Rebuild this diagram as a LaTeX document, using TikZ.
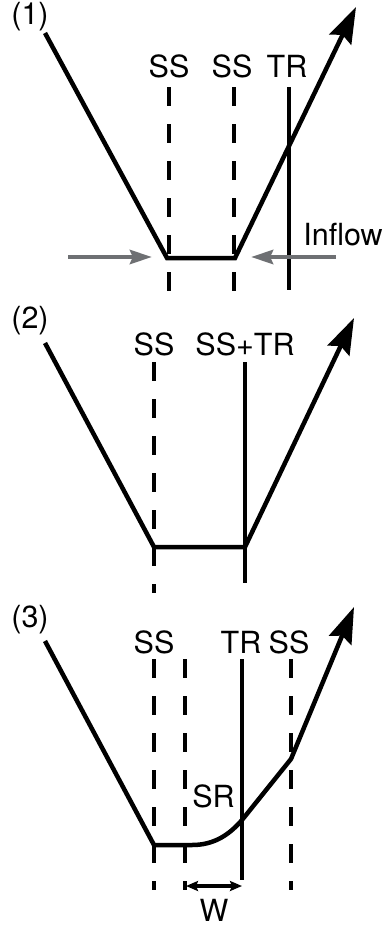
\documentclass[tikz,border=0pt]{standalone}
\usepackage{fontspec}
\setmainfont{TeX Gyre Heros}
\usetikzlibrary{arrows.meta}
\begin{document}
\begin{tikzpicture}[x=1pt,y=-1pt,
  lbl/.style={inner sep=0pt,font=\fontsize{30.5}{36}\selectfont},
  prof/.style={line width=4.5pt,line join=miter},
  profarrow/.style={prof,-{Stealth[length=36pt,width=24pt,inset=5pt]}},
  ssline/.style={line width=3.2pt,dash pattern=on 19pt off 18pt},
  trline/.style={line width=3.2pt},
  inflowarrow/.style={line width=4.5pt,draw={rgb,255:red,110;green,112;blue,115},-{Stealth[length=22pt,width=14pt,inset=3pt]}},
  warrow/.style={line width=3.2pt,{Stealth[length=12pt,width=10pt,inset=2pt]}-{Stealth[length=12pt,width=10pt,inset=2pt]}}]
\useasboundingbox (0,0) rectangle (387,930);
% ---------- Panel 1
\node[lbl] (n1) at (30,17) {(1)};
\node[lbl] (ss1a) at (169,66) {SS};
\node[lbl] (ss1b) at (232,66) {SS};
\node[lbl] (tr1) at (287,66) {TR};
\node[lbl] (inflow) at (343,234.5) {Inflow};
\coordinate (d1a) at (169,87); \coordinate (d1ae) at (169,292);
\coordinate (d1b) at (234,87); \coordinate (d1be) at (234,292);
\coordinate (t1) at (289,87); \coordinate (t1e) at (289,290);
\draw[ssline] (d1a) -- (d1ae);
\draw[ssline] (d1b) -- (d1be);
\draw[trline] (t1) -- (t1e);
\coordinate (p1a) at (45,33); \coordinate (p1b) at (167,258);
\coordinate (p1c) at (235,258); \coordinate (p1d) at (356,7);
\draw[profarrow] (p1a) -- (p1b) -- (p1c) -- (p1d);
\coordinate (g1a) at (68,257); \coordinate (g1b) at (152,257);
\coordinate (g2a) at (336,257); \coordinate (g2b) at (251,257);
\draw[inflowarrow] (g1a) -- (g1b);
\draw[inflowarrow] (g2a) -- (g2b);
% ---------- Panel 2
\node[lbl] (n2) at (30,321) {(2)};
\node[lbl] (ss2) at (154,344) {SS};
\node[lbl] (sstr2) at (245,344) {SS+TR};
\coordinate (d2) at (154,362); \coordinate (d2e) at (154,593);
\coordinate (t2) at (245,362); \coordinate (t2e) at (245,583);
\draw[ssline] (d2) -- (d2e);
\draw[trline] (t2) -- (t2e);
\coordinate (p2a) at (45,343); \coordinate (p2b) at (154,547);
\coordinate (p2c) at (245,547); \coordinate (p2d) at (354,318);
\draw[profarrow] (p2a) -- (p2b) -- (p2c) -- (p2d);
% ---------- Panel 3
\node[lbl] (n3) at (30,620) {(3)};
\node[lbl] (ss3a) at (154,642) {SS};
\node[lbl] (tr3) at (241,642) {TR};
\node[lbl] (ss3b) at (289,642) {SS};
\node[lbl] (sr3) at (213.5,796) {SR};
\node[lbl] (w3) at (214,910) {W};
\coordinate (d3a) at (154,659); \coordinate (d3ae) at (154,890);
\coordinate (d3b) at (185,659); \coordinate (d3be) at (185,890);
\coordinate (d3c) at (291,659); \coordinate (d3ce) at (291,890);
\coordinate (t3) at (242,659); \coordinate (t3e) at (242,880);
\draw[ssline] (d3a) -- (d3ae);
\draw[ssline] (d3b) -- (d3be);
\draw[ssline] (d3c) -- (d3ce);
\draw[trline] (t3) -- (t3e);
\coordinate (p3a) at (45,641); \coordinate (p3b) at (154,845);
\coordinate (p3c) at (192,845); \coordinate (p3d) at (242,820);
\coordinate (p3e) at (291,759); \coordinate (p3f) at (354,607);
\draw[profarrow] (p3a) -- (p3b) -- (p3c) .. controls (214,845) and (229,835) .. (p3d) -- (p3e) -- (p3f);
\coordinate (wa) at (186,886); \coordinate (wb) at (242,886);
\draw[warrow] (wa) -- (wb);
\end{tikzpicture}
\end{document}
